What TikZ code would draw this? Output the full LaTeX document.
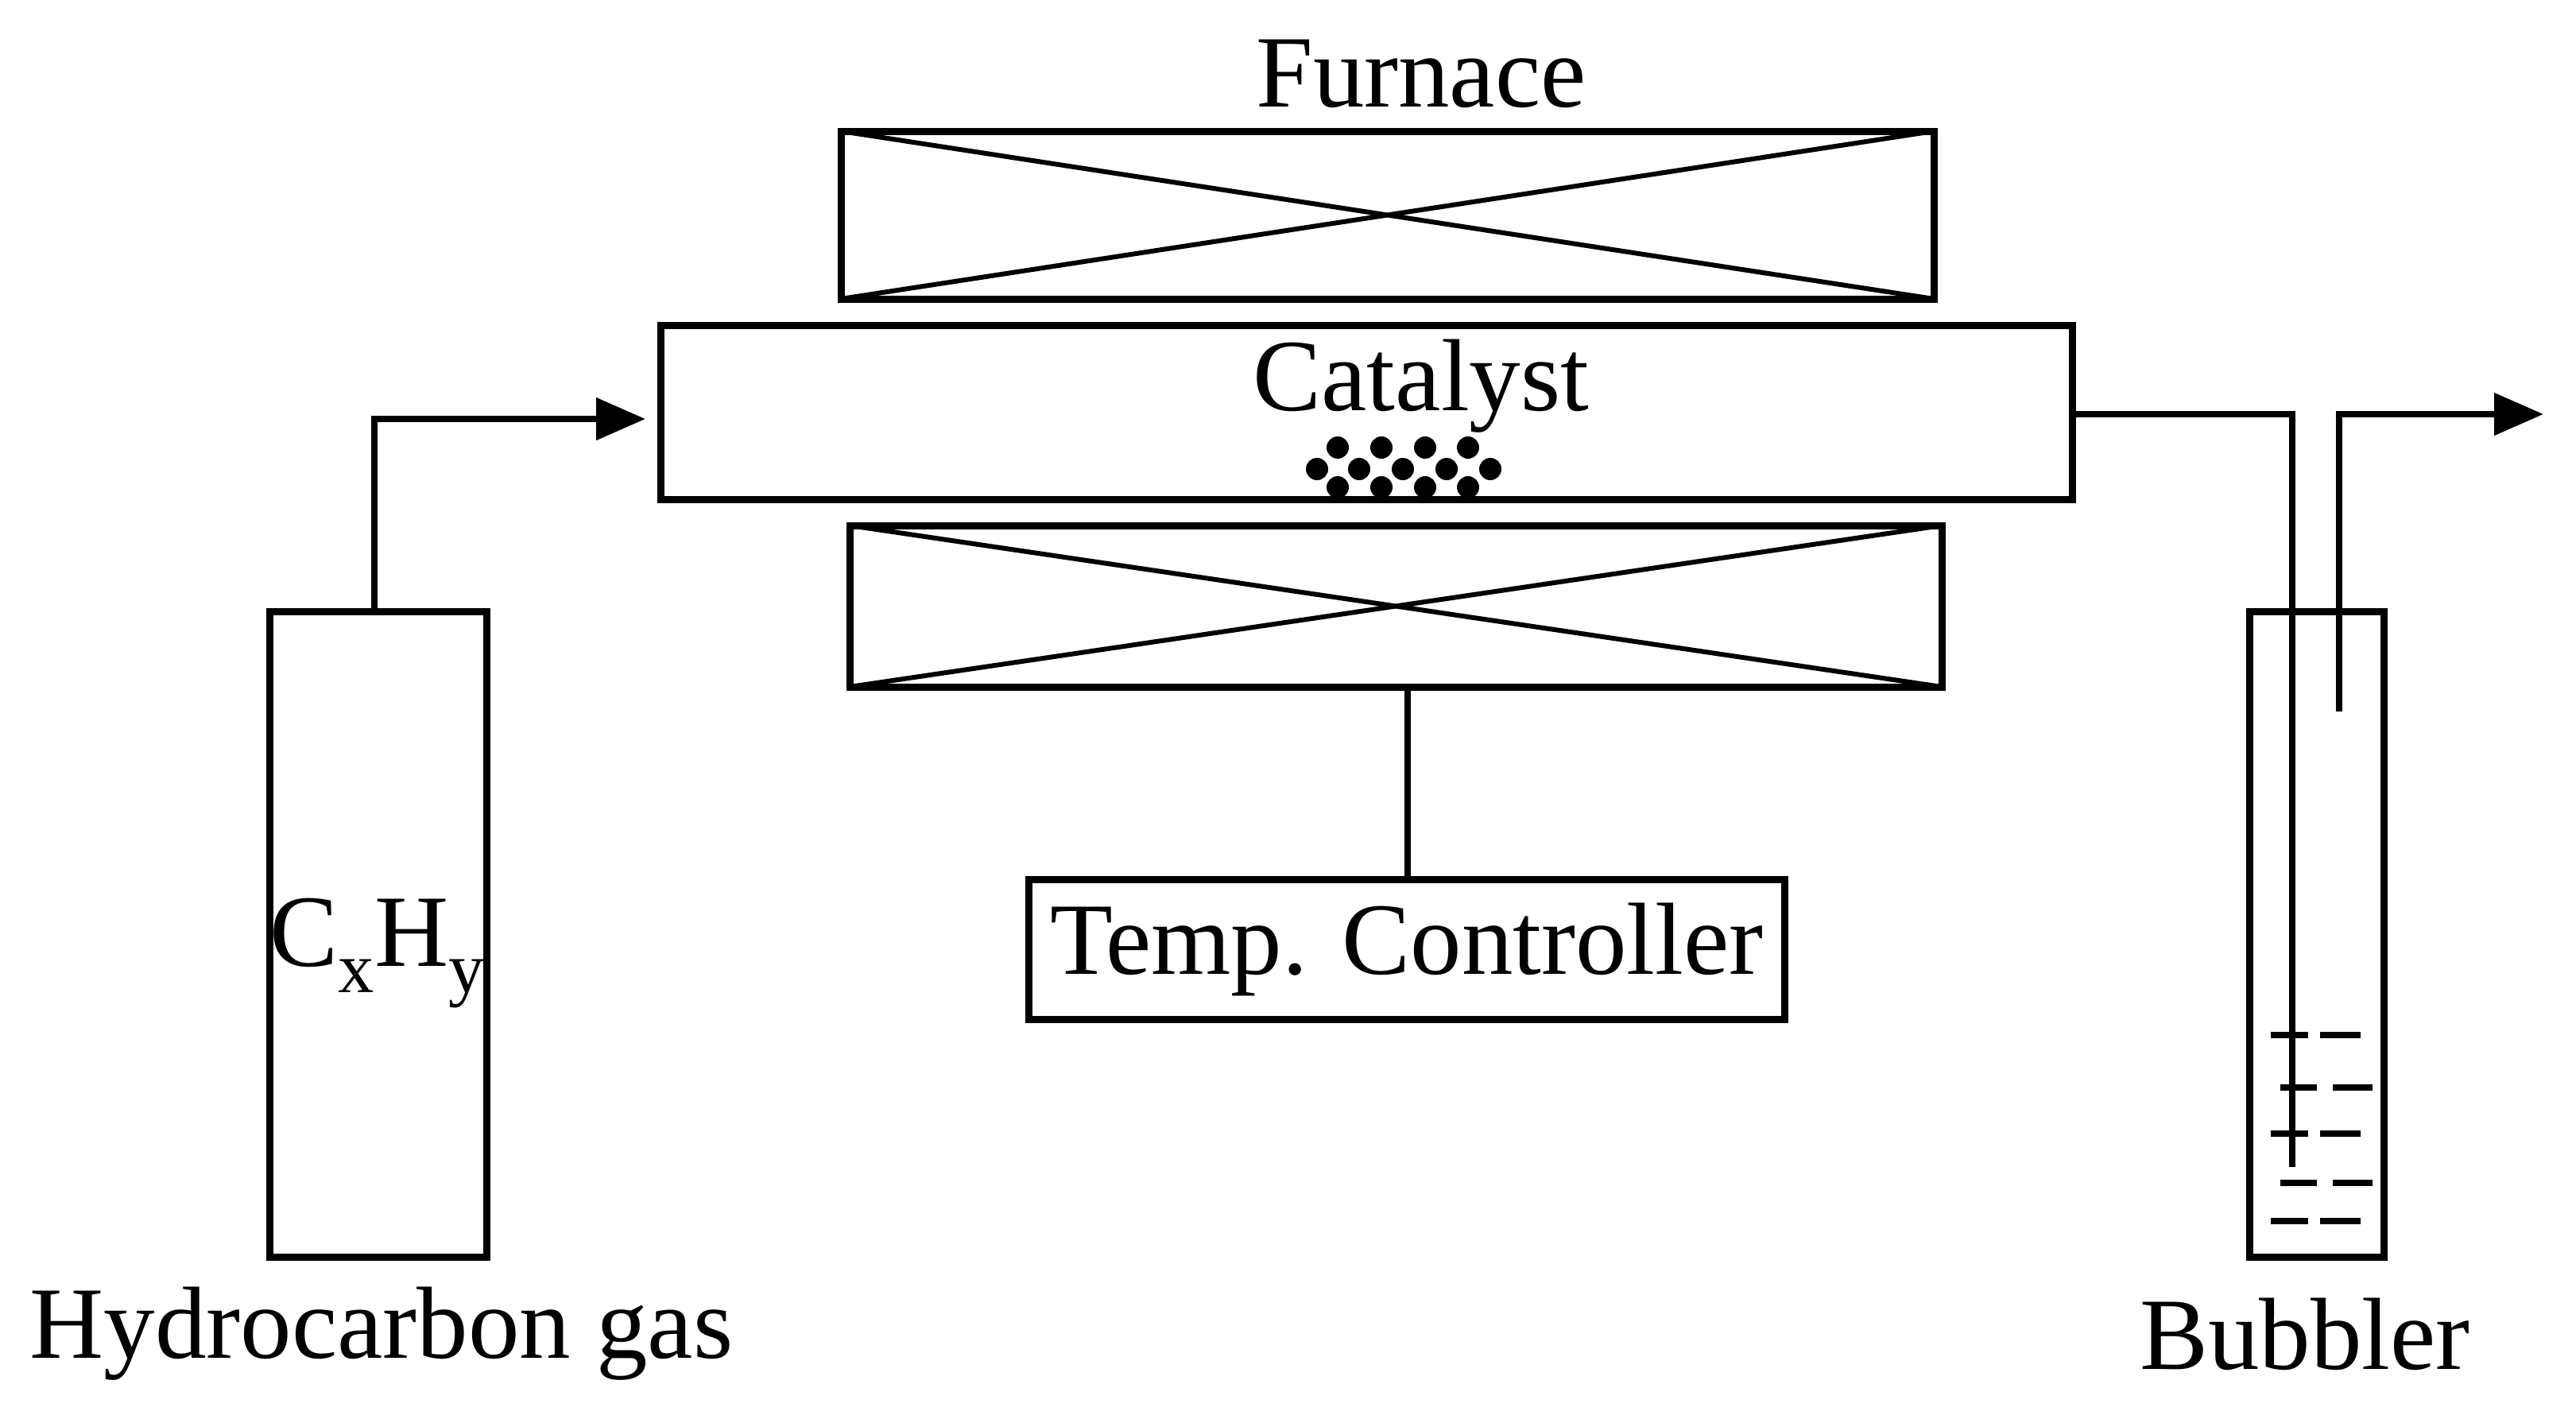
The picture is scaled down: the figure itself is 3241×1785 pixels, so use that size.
\documentclass[tikz,border=0pt]{standalone}
\usepackage{fontspec}
\setmainfont{Liberation Serif}
\usetikzlibrary{arrows.meta}
\begin{document}
\begin{tikzpicture}[x=1pt,y=-1pt,line width=8pt,
  lbl/.style={font=\fontsize{129}{140}\selectfont,inner sep=0},
  boxn/.style={draw,line width=9pt,inner sep=0},
  flow/.style={-{Triangle[length=62pt,width=52pt]},line width=8pt}]
\useasboundingbox (0,0) rectangle (3241,1785);
% furnace
\draw[line width=9pt] (1058,165) rectangle (2433,376);
\draw[line width=6pt] (1058,165) -- (2433,376) (1058,376) -- (2433,165);
\draw[line width=9pt] (1069,661) rectangle (2443,864);
\draw[line width=6pt] (1069,661) -- (2443,864) (1069,864) -- (2443,661);
\coordinate (fb) at (1771,864);
\node[lbl] (furn) at (1788,93) {Furnace};
% tube
\node[boxn,minimum width=1776pt,minimum height=219pt] (tube) at (1719,518.5) {};
\node[lbl] (cat) at (1788,486) {Catalyst};
\foreach \x in {1683,1738,1793,1847}{\fill (\x,563) circle (14); \fill (\x,613) circle (14);}
\foreach \x in {1657,1710,1765,1820,1875}{\fill (\x,590) circle (14);}
% controller
\node[boxn,minimum width=951pt,minimum height=176pt,font=\fontsize{129}{140}\selectfont] (tc) at (1770,1194) {Temp. Controller};
\draw (fb) -- (fb |- tc.north);
% cylinder
\node[boxn,minimum width=273pt,minimum height=812pt] (cyl) at (475.5,1175) {};
\node[lbl] (cxhy) at (475,1199) {C\textsubscript{x}H\textsubscript{y}};
\node[lbl] (hg) at (480,1678) {Hydrocarbon gas};
\coordinate (gin) at (812,527);
\draw[flow] (471,769) -- (471,527) -- (gin);
% bubbler
\node[boxn,minimum width=169pt,minimum height=812pt] (bub) at (2914.5,1175) {};
\node[lbl] (bl) at (2900,1678) {Bubbler};
\coordinate (out) at (3200,521);
\draw (2607,521) -- (2884,521) -- (2884,1468);
\draw[flow] (2943,895) -- (2943,521) -- (out);
\foreach \y in {1302,1426,1536}{\draw (2857,\y) -- (2904,\y) (2919,\y) -- (2970,\y);}
\foreach \y in {1368,1488}{\draw (2869,\y) -- (2915,\y) (2935,\y) -- (2985,\y);}
\end{tikzpicture}
\end{document}
